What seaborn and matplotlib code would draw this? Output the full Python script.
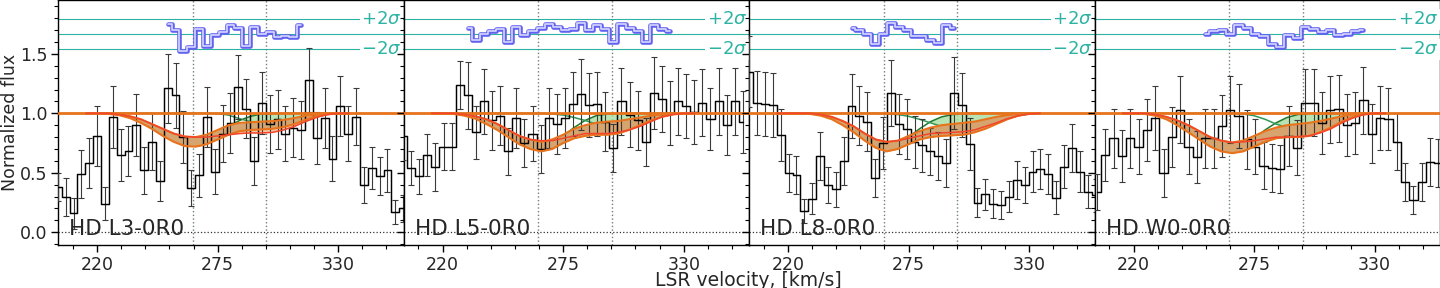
import numpy as np
import matplotlib
matplotlib.use('Agg')
import matplotlib.pyplot as plt
from matplotlib.ticker import MultipleLocator
import seaborn as sns

sns.set_style('ticks')
plt.rcParams['font.family'] = ['DejaVu Sans']
plt.rcParams['mathtext.fontset'] = 'dejavusans'

labels = ['HD L3-0R0', 'HD L5-0R0', 'HD L8-0R0', 'HD W0-0R0']

# pixel grid of each transition: first bin centre and bin width [km/s]
v_start = [202.1, 202.0, 202.3, 203.3]
v_step = [3.58, 3.69, 3.59, 3.80]

# normalized flux and 1-sigma errors, one value per pixel
flux_l3 = [0.38, 0.30, 0.16, 0.49, 0.58, 0.81, 0.24, 0.97, 0.65, 0.68, 0.90, 0.52, 0.76, 0.43, 1.21,
           1.15, 0.80, 0.37, 0.48, 0.97, 0.51, 0.83, 0.92, 1.22, 1.04, 0.60, 1.09, 0.91, 0.95, 0.83,
           0.88, 0.86, 1.28, 0.79, 0.96, 0.62, 1.06, 0.83, 0.97, 0.40, 0.54, 0.47, 0.52, 0.17, 0.20]
err_l3 = [0.12, 0.16, 0.13, 0.20, 0.21, 0.25, 0.14, 0.26, 0.22, 0.21, 0.26, 0.20, 0.24, 0.17, 0.29,
          0.27, 0.22, 0.15, 0.18, 0.25, 0.19, 0.24, 0.25, 0.27, 0.25, 0.20, 0.26, 0.24, 0.25, 0.23,
          0.25, 0.24, 0.27, 0.22, 0.25, 0.19, 0.25, 0.23, 0.24, 0.15, 0.18, 0.16, 0.18, 0.10, 0.11]

flux_l5 = [0.81, 0.54, 0.47, 0.65, 0.55, 0.72, 0.72, 1.24, 1.15, 0.84, 1.10, 0.94, 0.98, 0.68, 0.96,
           0.75, 0.83, 0.70, 0.96, 0.91, 0.96, 1.08, 1.16, 1.07, 1.08, 0.93, 0.71, 1.10, 0.99, 0.94,
           0.76, 1.17, 1.12, 1.00, 1.10, 1.06, 1.01, 1.09, 0.95, 1.10, 0.90, 1.10, 0.93]
err_l5 = [0.20, 0.14, 0.15, 0.18, 0.20, 0.20, 0.20, 0.20, 0.28, 0.22, 0.27, 0.25, 0.25, 0.20, 0.25,
          0.20, 0.23, 0.20, 0.25, 0.25, 0.25, 0.27, 0.30, 0.27, 0.27, 0.25, 0.20, 0.28, 0.27, 0.25,
          0.20, 0.30, 0.28, 0.27, 0.28, 0.27, 0.27, 0.28, 0.26, 0.28, 0.25, 0.28, 0.26]

flux_l8 = [1.35, 1.09, 1.08, 1.07, 0.82, 0.50, 0.48, 0.18, 0.28, 0.64, 0.40, 0.36, 0.60, 1.06, 0.98,
           0.93, 0.46, 0.75, 1.17, 0.91, 0.87, 0.76, 0.73, 0.68, 0.64, 0.58, 1.17, 1.07, 0.74, 0.25,
           0.32, 0.24, 0.23, 0.30, 0.44, 0.40, 0.51, 0.53, 0.49, 0.29, 0.55, 0.71, 0.51, 0.34, 0.31]
err_l8 = [0.30, 0.27, 0.27, 0.27, 0.22, 0.16, 0.16, 0.10, 0.13, 0.20, 0.15, 0.15, 0.20, 0.27, 0.25,
          0.25, 0.16, 0.22, 0.28, 0.25, 0.25, 0.22, 0.22, 0.20, 0.20, 0.20, 0.30, 0.27, 0.22, 0.12,
          0.13, 0.12, 0.12, 0.13, 0.16, 0.15, 0.17, 0.17, 0.17, 0.14, 0.18, 0.20, 0.17, 0.14, 0.14]

flux_w0 = [0.34, 0.65, 0.79, 0.64, 0.79, 0.72, 0.86, 0.96, 0.50, 0.80, 1.03, 0.72, 0.63, 0.79, 0.79,
           0.89, 1.03, 0.98, 0.78, 0.72, 0.56, 0.54, 0.53, 0.81, 0.71, 1.09, 1.09, 0.92, 1.03, 1.04,
           0.90, 0.92, 1.11, 0.83, 0.96, 0.95, 0.76, 0.42, 0.27, 0.42, 0.59, 0.58, 0.34]
err_w0 = [0.15, 0.22, 0.25, 0.22, 0.25, 0.23, 0.26, 0.27, 0.20, 0.25, 0.28, 0.23, 0.22, 0.25, 0.25,
          0.26, 0.28, 0.27, 0.25, 0.23, 0.20, 0.20, 0.20, 0.25, 0.23, 0.28, 0.28, 0.26, 0.28, 0.28,
          0.26, 0.26, 0.28, 0.25, 0.27, 0.26, 0.24, 0.16, 0.12, 0.16, 0.20, 0.20, 0.15]

# residuals (shifted to the top of the panel) and the pixel they start at
res_start = [14, 8, 13, 13]
res_l3 = [1.75, 1.70, 1.52, 1.56, 1.71, 1.57, 1.66, 1.68, 1.74, 1.72, 1.57, 1.73, 1.67, 1.68, 1.64,
          1.65, 1.64, 1.74]
res_l5 = [1.72, 1.62, 1.67, 1.69, 1.71, 1.60, 1.73, 1.66, 1.69, 1.72, 1.75, 1.73, 1.70, 1.71, 1.76,
          1.70, 1.74, 1.71, 1.60, 1.75, 1.72, 1.69, 1.60, 1.74, 1.71, 1.69]
res_l8 = [1.72, 1.70, 1.67, 1.58, 1.67, 1.76, 1.73, 1.70, 1.65, 1.65, 1.62, 1.59, 1.74, 1.72]
res_w0 = [1.67, 1.69, 1.70, 1.67, 1.74, 1.72, 1.67, 1.65, 1.58, 1.56, 1.66, 1.63, 1.73, 1.71, 1.68,
          1.70, 1.66, 1.67, 1.69, 1.70]
sig_mid, sig_lo, sig_hi = 1.665, 1.537, 1.790

# model profiles read every 5 km/s (215 ... 335)
v_model = [215, 220, 225, 230, 235, 240, 245, 250, 255, 260, 265, 270, 275,
           280, 285, 290, 295, 300, 305, 310, 315, 320, 325, 330, 335]

lo_l3 = [1, 1, .995, .985, .96, .92, .87, .81, .76, .725, .72, .74, .78, .82, .85, .86, .865, .87, .885, .91, .945, .975, .99, 1, 1]
hi_l3 = [1, 1, 1, .99, .975, .95, .91, .87, .83, .805, .80, .82, .86, .90, .92, .925, .93, .935, .945, .96, .98, .99, 1, 1, 1]
red_l3 = [1, 1, 1, .99, .975, .95, .91, .87, .83, .805, .80, .80, .81, .82, .83, .835, .835, .84, .86, .89, .93, .965, .99, 1, 1]
ga_l3 = [1, 1, 1, .99, .97, .94, .90, .85, .80, .77, .76, .79, .84, .89, .94, .975, .995, 1, 1, 1, 1, 1, 1, 1, 1]
gb_l3 = [1, 1, 1, 1, 1, 1, 1, 1, 1, 1, 1, 1, .998, .985, .955, .93, .915, .91, .915, .935, .96, .985, 1, 1, 1]

lo_l5 = [1, 1, .995, .98, .955, .91, .86, .80, .74, .70, .68, .70, .75, .79, .81, .82, .82, .83, .86, .90, .94, .97, .99, 1, 1]
hi_l5 = [1, 1, 1, .99, .975, .95, .91, .86, .81, .78, .76, .78, .82, .87, .90, .92, .93, .935, .95, .965, .98, .99, 1, 1, 1]
red_l5 = [1, 1, 1, .99, .975, .95, .91, .86, .81, .78, .77, .77, .79, .81, .83, .83, .83, .84, .86, .89, .93, .97, .99, 1, 1]
ga_l5 = [1, 1, 1, .99, .97, .93, .88, .82, .76, .72, .71, .74, .81, .88, .94, .98, .995, 1, 1, 1, 1, 1, 1, 1, 1]
gb_l5 = [1, 1, 1, 1, 1, 1, 1, 1, 1, 1, 1, .995, .985, .965, .94, .91, .89, .89, .90, .93, .96, .985, 1, 1, 1]

lo_l8 = [1, 1, 1, .995, .98, .95, .90, .84, .77, .71, .68, .70, .74, .78, .80, .81, .815, .82, .84, .87, .91, .95, .98, .995, 1]
hi_l8 = [1, 1, 1, 1, .99, .97, .935, .89, .83, .78, .76, .77, .81, .85, .88, .90, .91, .92, .93, .95, .97, .985, .995, 1, 1]
red_l8 = [1, 1, 1, 1, .99, .97, .935, .89, .83, .78, .76, .77, .79, .81, .83, .835, .84, .845, .86, .89, .92, .955, .98, .995, 1]
ga_l8 = [1, 1, 1, 1, .985, .96, .92, .86, .79, .74, .72, .74, .80, .87, .93, .97, .99, 1, 1, 1, 1, 1, 1, 1, 1]
gb_l8 = [1, 1, 1, 1, 1, 1, 1, 1, 1, 1, .995, .99, .975, .95, .92, .89, .87, .86, .87, .89, .92, .955, .98, .995, 1]

lo_w0 = [1, 1, .995, .98, .95, .90, .84, .78, .72, .68, .665, .68, .72, .76, .79, .80, .80, .81, .84, .88, .93, .97, .99, 1, 1]
hi_w0 = [1, 1, 1, .99, .97, .94, .90, .85, .80, .77, .755, .77, .81, .85, .88, .90, .91, .92, .935, .955, .975, .99, 1, 1, 1]
red_w0 = [1, 1, 1, .99, .97, .94, .90, .85, .80, .77, .755, .76, .77, .785, .80, .80, .805, .81, .835, .87, .92, .96, .99, 1, 1]
ga_w0 = [1, 1, 1, .99, .965, .92, .87, .81, .76, .72, .705, .73, .79, .86, .92, .965, .99, 1, 1, 1, 1, 1, 1, 1, 1]
gb_w0 = [1, 1, 1, 1, 1, 1, 1, 1, 1, 1, 1, .995, .98, .95, .91, .88, .86, .86, .87, .90, .935, .97, .99, 1, 1]

comp_v = [263.7, 297.2]

panels = [
    (flux_l3, err_l3, res_l3, lo_l3, hi_l3, red_l3, ga_l3, gb_l3),
    (flux_l5, err_l5, res_l5, lo_l5, hi_l5, red_l5, ga_l5, gb_l5),
    (flux_l8, err_l8, res_l8, lo_l8, hi_l8, red_l8, ga_l8, gb_l8),
    (flux_w0, err_w0, res_w0, lo_w0, hi_w0, red_w0, ga_w0, gb_w0),
]

orange = '#e8731c'
teal = '#2db3a3'

fig, axes = plt.subplots(1, 4, figsize=(14.4, 2.88), dpi=100, sharey=True)
fig.subplots_adjust(left=0.0403, right=1.0, bottom=0.149, top=1.0, wspace=0)

vm = np.array(v_model)
for i, ax in enumerate(axes):
    flux, err, res, lo, hi, red, ga, gb = panels[i]
    v = v_start[i] + v_step[i] * np.arange(len(flux))
    ga_a, gb_a = np.array(ga), np.array(gb)

    # model components (mostly hidden under the total band)
    ax.fill_between(vm, ga_a, gb_a, where=ga_a >= gb_a, interpolate=True,
                    color='#a6dca0', alpha=0.8, lw=0, zorder=2.2)
    sns.lineplot(x=vm, y=ga, color='#1f7a2e', lw=1.1, ax=ax, zorder=2.5)
    sns.lineplot(x=vm, y=gb, color='#2f9a55', lw=1.1, ax=ax, zorder=2.5)
    ax.fill_between(vm, red, lo, color='#fbc4a0', lw=0, zorder=2.8)
    ax.fill_between(vm, lo, hi, color='#d6a46e', lw=0, zorder=3)

    # data
    sns.lineplot(x=v, y=flux, drawstyle='steps-mid', color='black', lw=1.05,
                 estimator=None, ax=ax, zorder=4)
    ax.errorbar(v, flux, yerr=err, fmt='none', ecolor='#3a3a3a', elinewidth=0.8,
                capsize=2.2, capthick=0.8, zorder=3.9)

    # total model profile
    ax.axhline(1.0, color=orange, lw=2.0, zorder=4.4)
    sns.lineplot(x=vm, y=lo, color=orange, lw=1.5, ax=ax, zorder=4.5)
    sns.lineplot(x=vm, y=hi, color=orange, lw=1.5, ax=ax, zorder=4.5)
    sns.lineplot(x=vm, y=red, color='#f2452b', lw=1.1, ax=ax, zorder=4.6)

    # residuals with 2-sigma band
    for lev in (sig_hi, sig_mid, sig_lo):
        ax.axhline(lev, color=teal, lw=0.8, zorder=1)
    vr = v[res_start[i]:res_start[i] + len(res)]
    sns.lineplot(x=vr, y=res, drawstyle='steps-mid', color='#6262f0', lw=3.3,
                 estimator=None, ax=ax, zorder=5)
    sns.lineplot(x=vr, y=res, drawstyle='steps-mid', color='#d6d6ff', lw=1.2,
                 estimator=None, ax=ax, zorder=5.1)
    ax.text(0.995, sig_hi, '$+2\\sigma$', transform=ax.get_yaxis_transform(), ha='right',
            va='center', color=teal, fontsize=13, zorder=6,
            bbox=dict(fc='white', ec='none', pad=1))
    ax.text(0.995, sig_lo, '$-2\\sigma$', transform=ax.get_yaxis_transform(), ha='right',
            va='center', color=teal, fontsize=13, zorder=6,
            bbox=dict(fc='white', ec='none', pad=1))

    for cv in comp_v:
        ax.axvline(cv, color='#6f7f7a', ls=':', lw=1.0, zorder=1.5)
    ax.axhline(0.0, color='#333333', ls=':', lw=0.9, zorder=1.5)

    ax.text(0.033, 0.041, labels[i], transform=ax.transAxes, fontsize=15.5,
            ha='left', va='baseline', zorder=7)

    ax.set_xlim(202.2, 359.8)
    ax.set_ylim(-0.108, 1.953)
    ax.xaxis.set_major_locator(MultipleLocator(55))
    ax.xaxis.set_minor_locator(MultipleLocator(11))
    ax.yaxis.set_major_locator(MultipleLocator(0.5))
    ax.yaxis.set_minor_locator(MultipleLocator(0.1))
    ax.tick_params(which='both', direction='out', labelsize=12.5, color='black', pad=2.5)
    ax.tick_params(which='major', length=5, width=1)
    ax.tick_params(which='minor', length=3, width=0.8)
    ax.set_xlabel('')
    ax.set_ylabel('')
    for sp in ax.spines.values():
        sp.set_visible(True)
        sp.set_color('black')
        sp.set_linewidth(1.0)
    if i > 0:
        ax.tick_params(labelleft=False)

axes[0].set_ylabel('Normalized flux', fontsize=12.5, labelpad=1)
fig.text(0.52, 0.006, 'LSR velocity, [km/s]', ha='center', va='baseline', fontsize=13.5)

fig.savefig('out.png', dpi=100)
